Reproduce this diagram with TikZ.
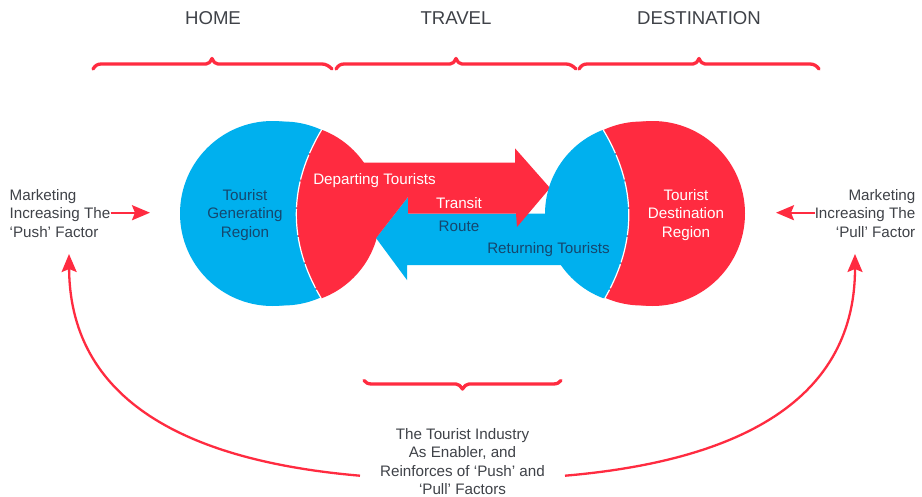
\documentclass[tikz,border=0pt]{standalone}
\usepackage{fontspec}
\setmainfont{Liberation Sans}
\usetikzlibrary{arrows.meta}
\definecolor{tred}{HTML}{FF2B40}
\definecolor{tblue}{HTML}{00B0EE}
\definecolor{tgrey}{HTML}{3F4248}
\definecolor{tnavy}{HTML}{15476E}
\tikzset{
  label15/.style={inner sep=0pt,font=\fontsize{15.2pt}{18.4pt}\selectfont,align=center,text=tgrey},
  head18/.style={inner sep=0pt,font=\fontsize{18.6pt}{20pt}\selectfont,text=tgrey},
  onred/.style={label15,text=white},
  onblue/.style={label15,text=tnavy},
  brace/.style={draw=tred,line width=3.3pt,line cap=round,line join=round},
  redarrow/.style={draw=tred,line width=2.3pt,-{Stealth[length=18pt,width=15pt,inset=3pt]}},
  seam/.style={draw=white,line width=1.2pt,dash pattern=on 26pt off 2pt}
}
\begin{document}
\begin{tikzpicture}[x=1pt,y=-1pt]
\useasboundingbox (0,0) rectangle (922,496);
\fill[white] (0,0) rectangle (922,496);
% left globe
\begin{scope}
  \clip (321.5,130) .. controls (288,186) and (288,242) .. (321,298) -- (321,330) -- (100,330) -- (100,90) -- (321.5,90) -- cycle;
  \fill[tblue] (272.5,213.5) circle[radius=92.5pt];
  \fill[tblue] (283,213.5) circle[radius=92pt];
\end{scope}
\begin{scope}
  \clip (321.5,130) .. controls (288,186) and (288,242) .. (321,298) -- (420,298) -- (420,130) -- cycle;
  \fill[tred] (290,214) circle[radius=90pt];
\end{scope}
% right globe, red part
\begin{scope}
  \clip (603.3,130) .. controls (637,186) and (637,242) .. (605,298) -- (605,330) -- (800,330) -- (800,90) -- (603.3,90) -- cycle;
  \fill[tred] (652.5,213.5) circle[radius=92.5pt];
  \fill[tred] (642,213.5) circle[radius=92pt];
\end{scope}
% arrows
\fill[tblue] (570,213.5) -- (408,213.5) -- (408,197) -- (376,238) -- (407,280) -- (407,265) -- (570,265) -- cycle;
\fill[tred] (350,162.7) -- (515,162.7) -- (515,148.3) -- (550,188) -- (517,227) -- (516,213.5) -- (408,213.5) -- (408,197) -- (376.5,237.5) -- (350,237.5) -- cycle;
% right globe, blue part
\begin{scope}
  \clip (603.3,130) .. controls (637,186) and (637,242) .. (605,298) -- (500,298) -- (500,130) -- cycle;
  \fill[tblue] (635,214) circle[radius=90pt];
\end{scope}
% seams
\draw[seam] (321.5,130) .. controls (288,186) and (288,242) .. (321,298);
\draw[seam] (603.3,130) .. controls (637,186) and (637,242) .. (605,298);
% globe labels
\node[onblue] (gen) at (245,215) {Tourist\\Generating\\Region};
\node[onred] (dest) at (686,215) {Tourist\\Destination\\Region};
\node[onred] (dep) at (374.5,180.5) {Departing Tourists};
\node[onred] (transit) at (459,203) {Transit};
\node[onblue] (route) at (459,226.5) {Route};
\node[onblue] (ret) at (548.5,250) {Returning Tourists};
% headings
\node[head18] (home) at (213,18.5) {HOME};
\node[head18] (travel) at (456,18.5) {TRAVEL};
\node[head18] (destination) at (699,18.5) {DESTINATION};
% braces
\draw[brace] (93,69) .. controls (95,66) and (97,64) .. (101,64) -- (206,64) .. controls (209,64) and (210,62) .. (212,58.5) .. controls (214,62) and (215,64) .. (218,64) -- (322,64) .. controls (326,64) and (329,66) .. (332,69);
\draw[brace] (336,69) .. controls (338,66) and (340,64) .. (344,64) -- (450,64) .. controls (453,64) and (454,62) .. (456,58.5) .. controls (458,62) and (459,64) .. (462,64) -- (566,64) .. controls (570,64) and (573,66) .. (576,69);
\draw[brace] (579,69) .. controls (581,66) and (583,64) .. (587,64) -- (693,64) .. controls (696,64) and (697,62) .. (699,58.5) .. controls (701,62) and (702,64) .. (705,64) -- (810,64) .. controls (814,64) and (817,66) .. (819,69);
\draw[brace] (364,380.5) .. controls (366,383) and (368,384) .. (372,384) -- (456,384) .. controls (459,384) and (460,386) .. (462.5,389) .. controls (465,386) and (466,384) .. (469,384) -- (553,384) .. controls (557,384) and (559,383) .. (561,380.5);
% side labels
\node[label15,align=left,anchor=west] (push) at (9.5,213.5) {Marketing\\Increasing The\\‘Push’ Factor};
\node[label15,align=right,anchor=east] (pull) at (915.5,213.5) {Marketing\\Increasing The\\‘Pull’ Factor};
\node[label15] (industry) at (462.5,461.5) {The Tourist Industry\\As Enabler, and\\Reinforces of ‘Push’ and\\‘Pull’ Factors};
% connectors
\coordinate (pushin) at (150,212.7);
\coordinate (pullin) at (776,212.7);
\coordinate (pushup) at (69,254);
\coordinate (pullup) at (855,254);
\coordinate (indl) at (360,475.7);
\coordinate (indr) at (565,475.7);
\draw[redarrow] (110.5,212.7) -- (pushin);
\draw[redarrow] (815,212.7) -- (pullin);
\draw[redarrow] (indl) .. controls (200,462) and (70,408) .. (pushup);
\draw[redarrow] (indr) .. controls (725,462) and (855,408) .. (pullup);
\end{tikzpicture}
\end{document}
